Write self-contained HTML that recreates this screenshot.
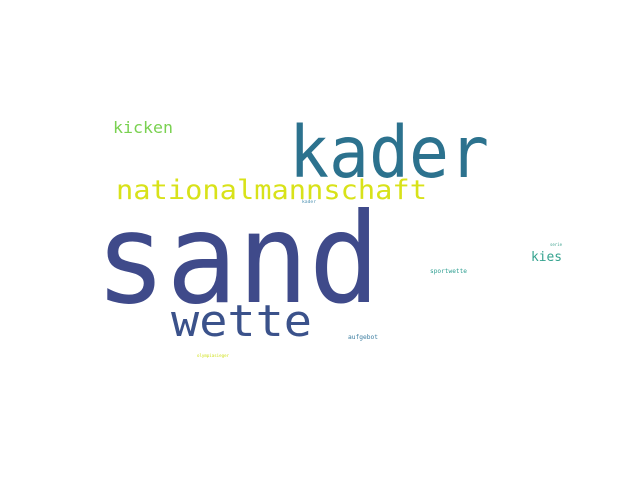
<!DOCTYPE html>
<html><head><meta charset="utf-8"><style>
html,body{margin:0;padding:0;background:#fff;}
svg{display:block;}
text{font-family:"DejaVu Sans Mono","Liberation Mono",monospace;}
</style></head><body>
<svg width="640" height="480" viewBox="0 0 640 480">
<rect width="640" height="480" fill="#fff"/>
<text x="95" y="302" font-size="125" fill="#3f4a8a" textLength="285" lengthAdjust="spacingAndGlyphs">sand</text>
<text x="289" y="177" font-size="71" fill="#2c728e" textLength="200" lengthAdjust="spacingAndGlyphs">kader</text>
<text x="116" y="199" font-size="27" fill="#d8e219" textLength="311" lengthAdjust="spacingAndGlyphs">nationalmannschaft</text>
<text x="171" y="336" font-size="44" fill="#3b528b" textLength="141" lengthAdjust="spacingAndGlyphs">wette</text>
<text x="113" y="133" font-size="16" fill="#7ad151" textLength="60" lengthAdjust="spacingAndGlyphs">kicken</text>
<text x="531" y="261" font-size="13" fill="#35a38f" textLength="31" lengthAdjust="spacingAndGlyphs">kies</text>
<text x="430" y="273" font-size="6.5" fill="#2a9d8f" textLength="37" lengthAdjust="spacingAndGlyphs">sportwette</text>
<text x="348" y="339" font-size="6.5" fill="#3a7ca0" textLength="30" lengthAdjust="spacingAndGlyphs">aufgebot</text>
<text x="197" y="357" font-size="4.5" fill="#cfe11c" textLength="32" lengthAdjust="spacingAndGlyphs">olympiasieger</text>
<text x="302" y="203" font-size="4" fill="#4a8fb0" textLength="14" lengthAdjust="spacingAndGlyphs">kader</text>
<text x="550" y="246" font-size="4" fill="#3aa08c" textLength="12" lengthAdjust="spacingAndGlyphs">serie</text>
</svg>
</body></html>
